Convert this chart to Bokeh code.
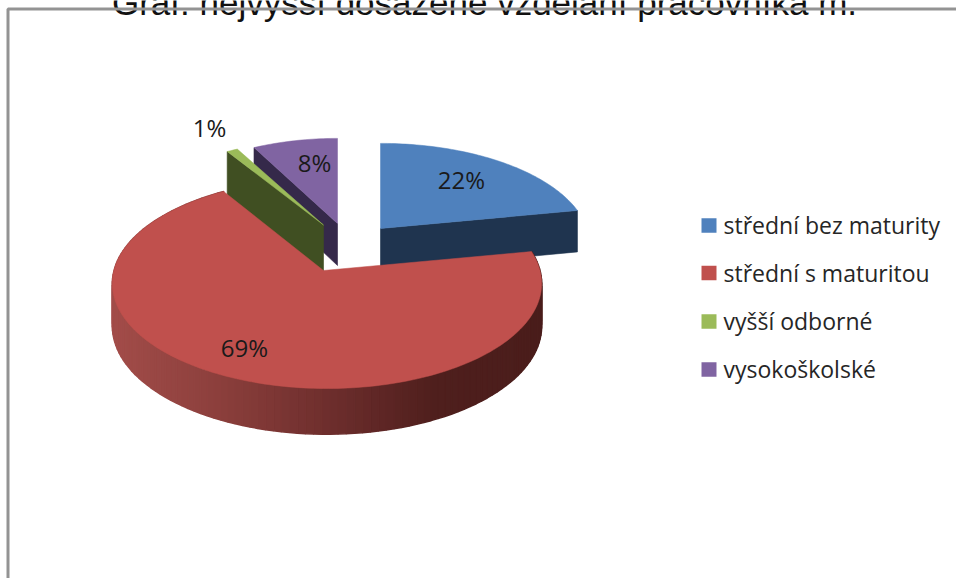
import numpy as np
from bokeh.plotting import figure
from bokeh.models import Range1d
from bokeh.core.properties import value
from bokeh.embed import file_html
from bokeh.resources import INLINE

# --- data ---
categories = ["střední bez maturity", "střední s maturitou", "vyšší odborné", "vysokoškolské"]
shares = [22, 69, 1, 8]
title_text = "Graf: nejvyšší dosažené vzdělání pracovníka m."

# --- style ---
top_colors = ["#4f81bd", "#c0504d", "#9bbb59", "#8064a2"]
face_colors = ["#1f344f", "#4a1e1c", "#404f22", "#35294a"]
side_stops = [(0.0, "#a24c49"), (0.25, "#8b3f3c"), (0.5, "#6e2e2d"), (0.75, "#4f1f1d"), (1.0, "#4a1d1b")]

# --- layout (screen pixels of the pie's projection) ---
W, H = 956, 578
apex = [(380, 228), (323, 270), (323, 224.5), (337, 223)]
arc_dx = [0, 3.5, 0, 0]
x_scale = [0.97, 1.0, 0.96, 0.93]
depth_k = [0.163, 0.124, 0.163, 0.163]
radius_b = [99.0, 103.4, 99.0, 99.0]
face_extra = [0, 0, 5, 0]
A = 213.0
label_xy = [(461, 179), (244, 347), (209, 127), (314, 162)]
legend_x, legend_y = 701, [224.5, 272, 320.5, 368.5]

def project(theta, i):
    u, v = np.sin(theta), np.cos(theta)
    d = 1 + depth_k[i] * v
    return apex[i][0] + arc_dx[i] + x_scale[i] * A * u / d, apex[i][1] - radius_b[i] * v / d

def depth(theta):
    return 42.0 / (1 + 0.08 * np.cos(theta))

def hex2rgb(c):
    return np.array([int(c[i:i + 2], 16) for i in (1, 3, 5)], float)

def side_color(f):
    fs = [s[0] for s in side_stops]
    rgb = [hex2rgb(s[1]) for s in side_stops]
    out = [np.interp(f, fs, [c[i] for c in rgb]) for i in range(3)]
    return "#%02x%02x%02x" % tuple(int(round(x)) for x in out)

p = figure(width=W, height=H, output_backend="svg", toolbar_location=None,
           x_range=Range1d(0, W), y_range=Range1d(H, 0), min_border=0,
           outline_line_color=None, background_fill_color="white",
           border_fill_color="white", margin=(0, 0, 0, 0))
p.axis.visible = False
p.grid.visible = False

# title, cropped by the top of the picture as in the reference
p.text([484], [1.5], text=[title_text], text_font=value("Liberation Sans"),
       text_font_size="35px", text_color="#111111", text_align="center",
       text_baseline="alphabetic")

# frame
p.line([7.5, 7.5, W], [H, 8.5, 8.5], line_color="#939393", line_width=3)

# slice angles
total = float(sum(shares))
edges = np.concatenate([[0], np.cumsum(shares)]) / total * 2 * np.pi

def draw_slice(i):
    t0, t1 = edges[i], edges[i + 1]
    ap = apex[i]
    th = np.linspace(t0, t1, max(4, int((t1 - t0) / 0.02)))
    ax, ay = project(th, i)

    # side walls
    if i == 1:
        step = np.linspace(t0, t1, 130)
        for a, b in zip(step[:-1], step[1:]):
            xa, ya = project(a, i)
            xb, yb = project(b, i)
            f = (0.5 * (xa + xb) - (ap[0] + arc_dx[i] - A)) / (2 * A)
            c = side_color(np.clip(f, 0, 1))
            p.patch([xa, xb, xb, xa], [ya, yb, yb + depth(b), ya + depth(a)],
                    fill_color=c, line_color=c, line_width=1.5)
    else:
        # the cut face that looks towards the viewer
        t = t1 if i == 0 else t0
        ex, ey = project(t, i)
        extra = face_extra[i]
        p.patch([ap[0], ex, ex, ap[0]],
                [ap[1], ey, ey + depth(t) + extra, ap[1] + depth(np.pi / 2) + extra],
                fill_color=face_colors[i], line_color=face_colors[i], line_width=0.6)

    # top surface
    p.patch(np.r_[ap[0], ax], np.r_[ap[1], ay], fill_color=top_colors[i],
            line_color=top_colors[i], line_width=0.5)

for i in [0, 3, 2, 1]:
    draw_slice(i)

# data labels
font = value("Open Sans")
p.text([xy[0] for xy in label_xy], [xy[1] for xy in label_xy],
       text=[f"{s}%" for s in shares], text_font=font, text_font_size="24px",
       text_color="#1a1a1a", text_align="center", text_baseline="middle")

# legend
for name, col, y in zip(categories, top_colors, legend_y):
    p.rect([legend_x + 7.5], [y + 0.5], width=15, height=14.5, fill_color=col, line_color=None)
    p.text([legend_x + 22], [y], text=[name], text_font=font, text_font_size="23px",
           text_color="#262626", text_align="left", text_baseline="middle")

open("out.html", "w").write(file_html(p, INLINE))
